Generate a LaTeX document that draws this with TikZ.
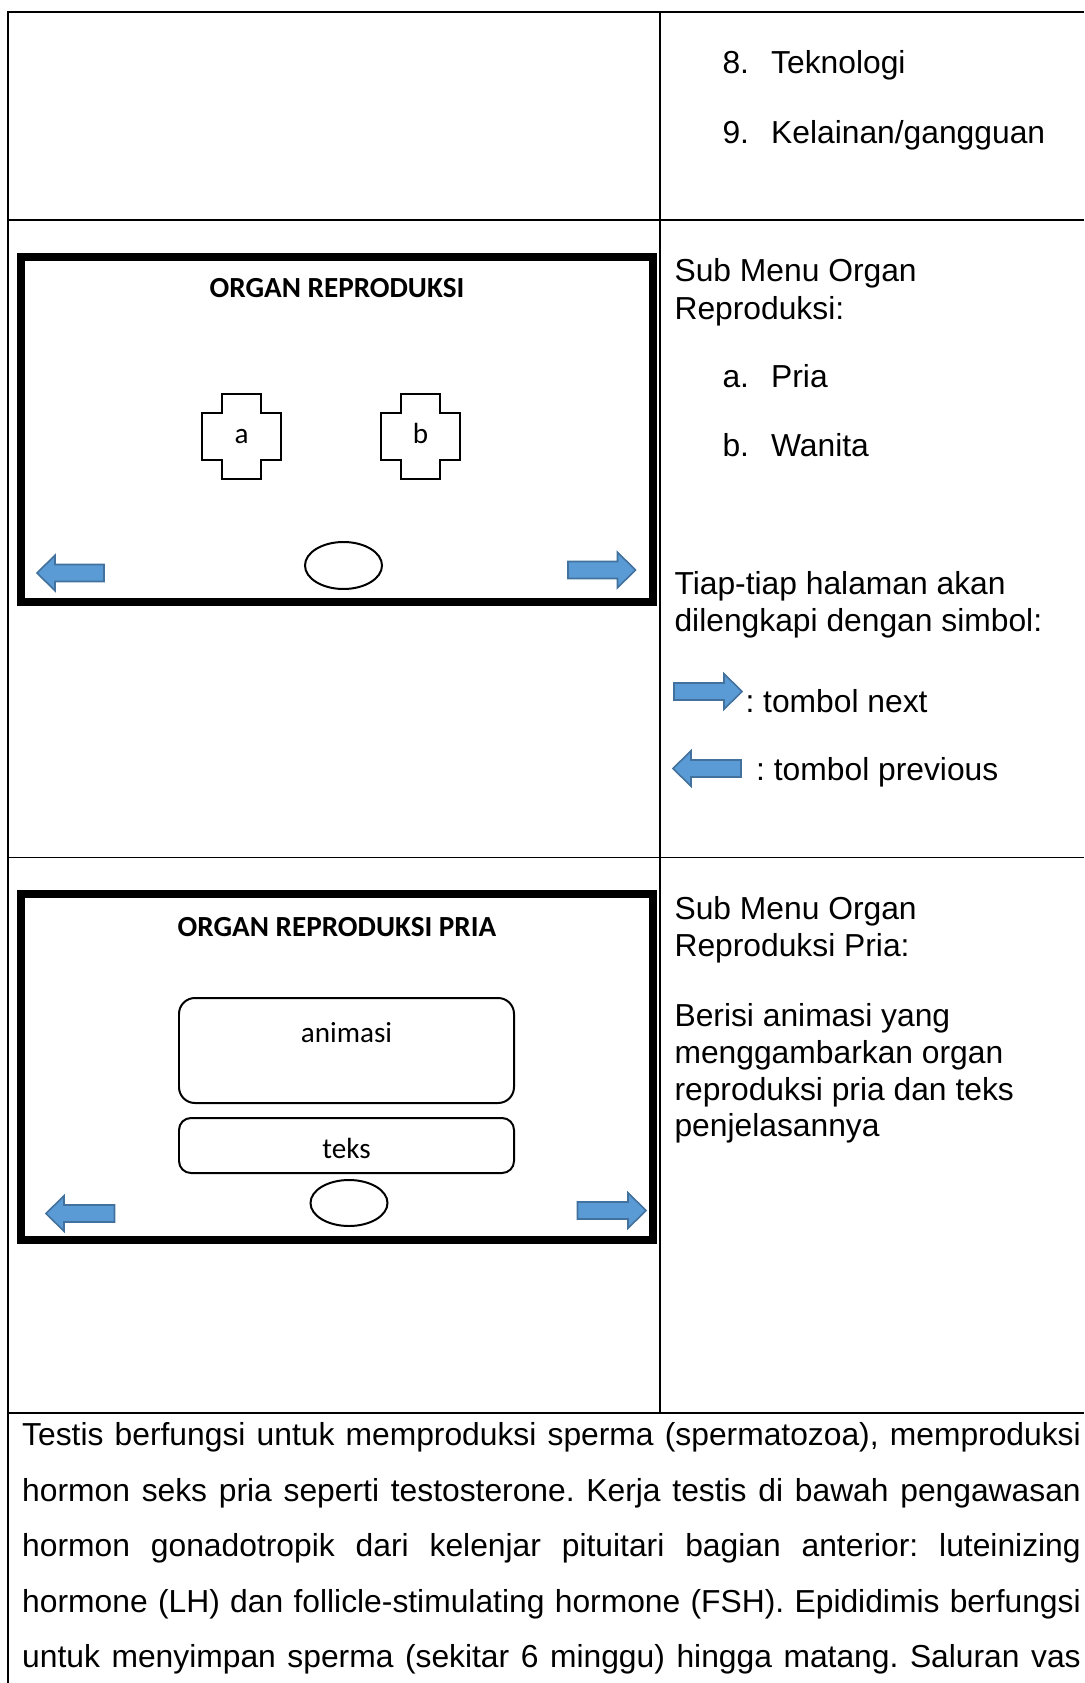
\documentclass[tikz,border=0pt]{standalone}
\usepackage{fontspec}
\setmainfont{Liberation Sans}
\newfontfamily\calibri{Carlito}
\frenchspacing
\definecolor{btnfill}{RGB}{91,155,213}
\definecolor{btnline}{RGB}{65,113,156}

\begin{document}
\begin{tikzpicture}[x=0.3774pt,y=-0.3774pt,
  rule/.style={line width=0.75pt},
  screen/.style={line width=3pt},
  outline/.style={line width=0.75pt},
  txt/.style={anchor=base west,inner sep=0pt,font=\fontsize{12}{13.8}\selectfont},
  lbl/.style={anchor=base,inner sep=0pt,font=\calibri\fontsize{11}{13}\selectfont},
  head/.style={anchor=base,inner sep=0pt,font=\calibri\bfseries\fontsize{11}{13}\selectfont},
  btn/.style={fill=btnfill,draw=btnline,line width=0.6pt}]
\useasboundingbox (0,0) rectangle (1084,1683);

% table
\draw[rule] (1084,12) -- (8,12) -- (8,1683);
\draw[rule] (660,12) -- (660,1413);
\foreach \y in {220,857.5,1413} {
  \draw[rule] (8,\y) -- (1084,\y);
}

% screen: organ reproduksi
\draw[screen] (21,257) rectangle (653,602);
\node[head] (title1) at (337,298) {ORGAN REPRODUKSI};
\foreach \cx/\nm in {241.5/a,420.5/b} {
  \draw[outline] ({\cx-19.5},394) -- ({\cx+19.5},394) -- ({\cx+19.5},413) -- ({\cx+39.5},413)
    -- ({\cx+39.5},460) -- ({\cx+19.5},460) -- ({\cx+19.5},479) -- ({\cx-19.5},479)
    -- ({\cx-19.5},460) -- ({\cx-39.5},460) -- ({\cx-39.5},413) -- ({\cx-19.5},413) -- cycle;
  \node[lbl] (opt\nm) at (\cx,444) {\nm};
}
\draw[outline] (343.5,565.5) ellipse [x radius=38.5,y radius=23.5];

% screen: organ reproduksi pria
\draw[screen] (21,894) rectangle (653,1240);
\node[head] (title2) at (337,936) {ORGAN REPRODUKSI PRIA};
\draw[outline,rounded corners=6pt] (179,998) rectangle (514,1103);
\node[lbl] (anim) at (346.5,1042) {animasi};
\draw[outline,rounded corners=4.5pt] (179,1118) rectangle (514,1173);
\node[lbl] (teks) at (346.5,1158) {teks};
\draw[outline] (349,1203) ellipse [x radius=38.5,y radius=23];

% next / previous buttons
\foreach \xa/\xb/\yc in {104/37/573, 568/635.5/570, 674/742/691.5,
                         741/673/768.5, 114.5/46/1213.5, 577.5/646/1210.5} {
  \pgfmathsetmacro\d{sign(\xb-\xa)}
  \filldraw[btn] (\xa,{\yc-8.5}) -- ({\xb-\d*18},{\yc-8.5}) -- ({\xb-\d*18},{\yc-17.75})
    -- (\xb,\yc) -- ({\xb-\d*18},{\yc+17.75}) -- ({\xb-\d*18},{\yc+8.5}) -- (\xa,{\yc+8.5}) -- cycle;
}

% keterangan kolom kanan
\node[txt] (no8) at (722,73.5) {8.};
\node[txt] (tek) at (770.6,73.5) {Teknologi};
\node[txt] (no9) at (722,143.2) {9.};
\node[txt] (kel) at (770.6,143.2) {Kelainan/gangguan};

\node[txt] (sub1) at (674,281.7) {Sub Menu Organ};
\node[txt] (sub2) at (674,319.3) {Reproduksi:};
\node[txt] (ia) at (722,388) {a.};
\node[txt] (pria) at (770.6,388) {Pria};
\node[txt] (ib) at (722,456.6) {b.};
\node[txt] (wanita) at (770.6,456.6) {Wanita};
\node[txt] (tiap1) at (674,594.7) {Tiap-tiap halaman akan};
\node[txt] (tiap2) at (674,631.4) {dilengkapi dengan simbol:};
\node[txt] (nextlbl) at (745,712.8) {: tombol next};
\node[txt] (prevlbl) at (755.7,780.7) {: tombol previous};

\node[txt] (subp1) at (674,919.3) {Sub Menu Organ};
\node[txt] (subp2) at (674,956.5) {Reproduksi Pria:};
\foreach \ln [count=\i] in {Berisi animasi yang, menggambarkan organ,
                            reproduksi pria dan teks, penjelasannya} {
  \node[txt] (desc\i) at (674,{1026.6+36.7*(\i-1)}) {\ln};
}

% uraian
\foreach \ln [count=\i] in {
  {Testis berfungsi untuk memproduksi sperma (spermatozoa), memproduksi},
  {hormon seks pria seperti testosterone. Kerja testis di bawah pengawasan},
  {hormon gonadotropik dari kelenjar pituitari bagian anterior: luteinizing},
  {hormone (LH) dan follicle-stimulating hormone (FSH). Epididimis berfungsi},
  {untuk menyimpan sperma (sekitar 6 minggu) hingga matang. Saluran vas}} {
  \node[txt] (body\i) at (21.7,{1445.9+55.4*(\i-1)}) {\makebox[399.5pt][s]{\ln}};
}
\end{tikzpicture}
\end{document}
